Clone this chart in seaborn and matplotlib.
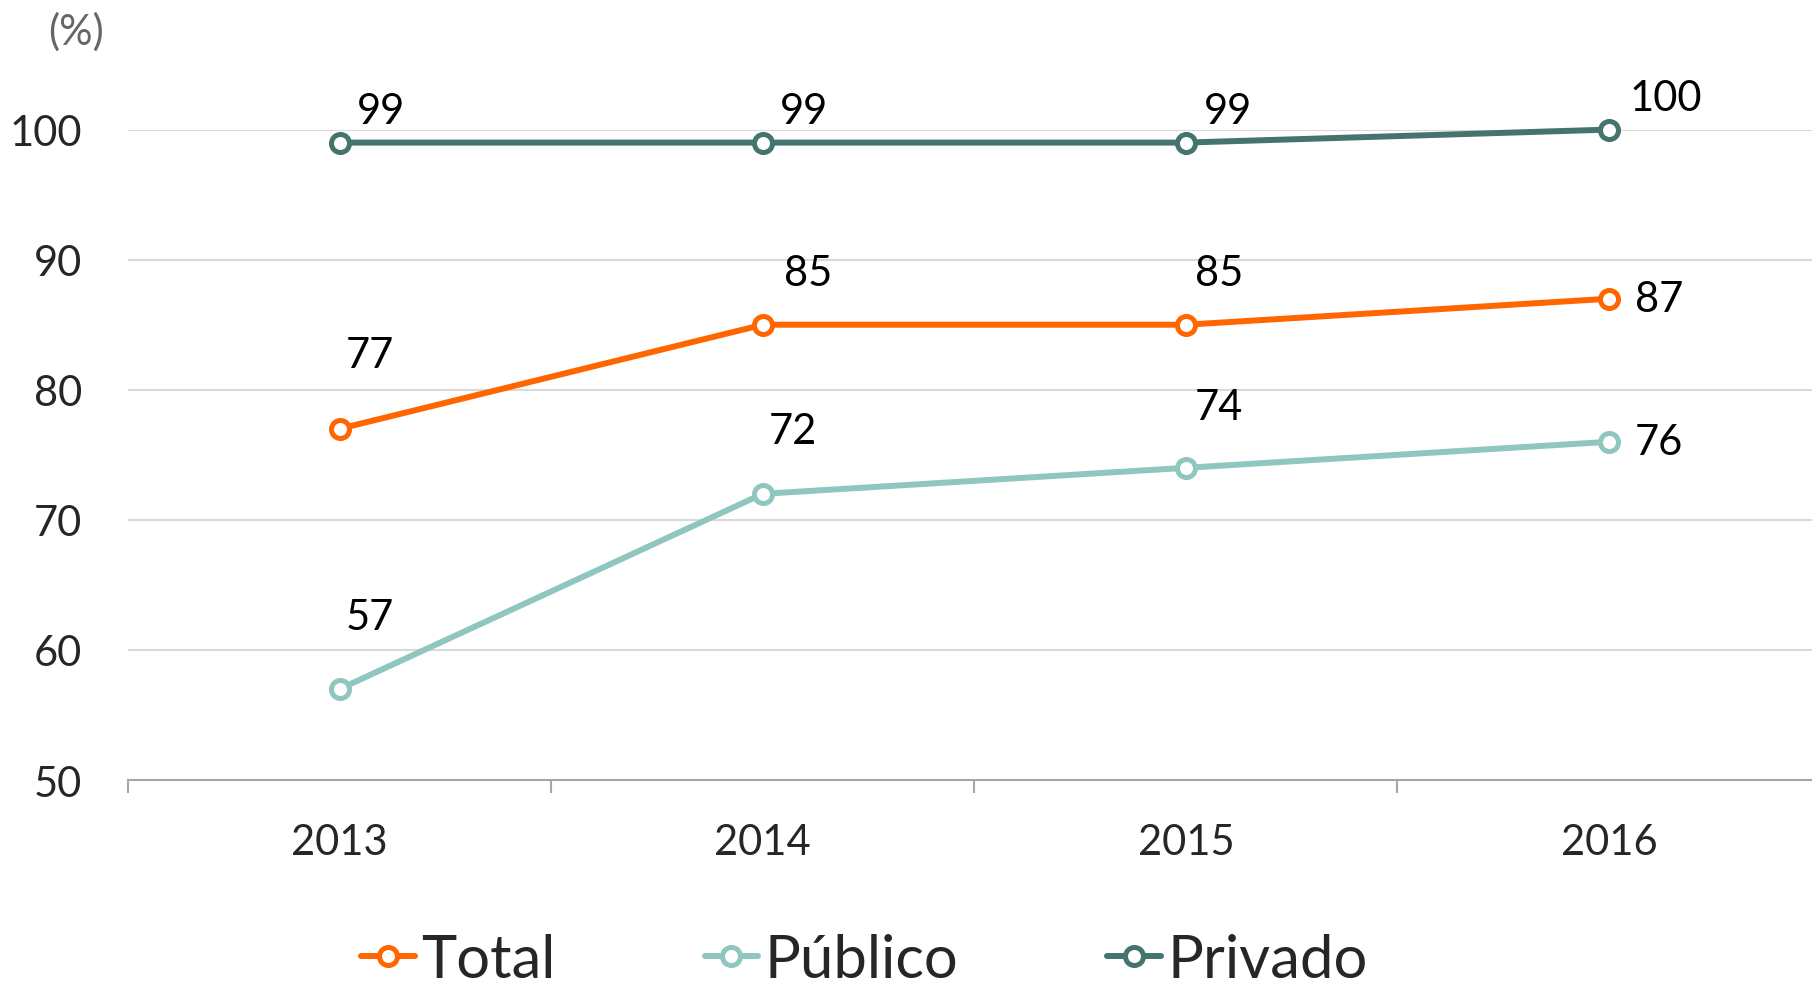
import pandas as pd
import matplotlib
matplotlib.use("Agg")
import matplotlib.pyplot as plt
import seaborn as sns

# data
years = [2013, 2014, 2015, 2016]
total = [77, 85, 85, 87]
publico = [57, 72, 74, 76]
privado = [99, 99, 99, 100]
series_names = ["Total", "Público", "Privado"]

# label offsets (points) per series, per year
offsets = {
    "Total": [(22, 53), (33, 37), (24, 37), (36, 0)],
    "Público": [(22, 52), (22, 45), (24, 44), (36, 0)],
    "Privado": [(30, 23), (30, 23), (30, 23), (41, 23)],
}

colors = {"Total": "#FF6600", "Público": "#8FC6C0", "Privado": "#44746E"}

df = pd.DataFrame({
    "Ano": years * 3,
    "Valor": total + publico + privado,
    "Serie": [s for s in series_names for _ in years],
})

sns.set_style("white")
plt.rcParams["font.family"] = ["Lato", "DejaVu Sans"]

fig = plt.figure(figsize=(18.12, 10.03), dpi=100)
ax = fig.add_axes([0.0707, 0.2213, 0.934, 0.6485])

sns.lineplot(data=df, x="Ano", y="Valor", hue="Serie", hue_order=series_names,
             palette=colors, marker="o", markersize=13, linewidth=4.3,
             legend=False, ax=ax, clip_on=False, zorder=3)

for line, name in zip(ax.lines, series_names):
    line.set_markerfacecolor("white")
    line.set_markeredgecolor(colors[name])
    line.set_markeredgewidth(3.6)
    line.set_label(name)

# data labels
vals = {"Total": total, "Público": publico, "Privado": privado}
for name in series_names:
    for x, v, (dx, dy) in zip(years, vals[name], offsets[name]):
        ax.annotate(str(v), (x, v), xytext=(dx, dy), textcoords="offset points",
                    ha="center", va="center", fontsize=30, color="black")

ax.set_xlim(2012.5, 2016.5)
ax.set_ylim(50, 100)
ax.set_yticks([50, 60, 70, 80, 90, 100])
ax.set_xticks(years)
ax.set_xticks([2012.5, 2013.5, 2014.5, 2015.5, 2016.5], minor=True)
ax.tick_params(axis="x", which="major", bottom=True, length=0, pad=31, labelsize=30)
ax.tick_params(axis="x", which="minor", bottom=True, length=9, width=1.5,
               color="#A6A6A6", direction="out")
ax.tick_params(axis="y", length=0, pad=33, labelsize=30)
ax.set_xlabel("")
ax.set_ylabel("")
ax.grid(axis="y", color="#D9D9D9", linewidth=1.5)
ax.set_axisbelow(True)
for s in ["left", "right", "top"]:
    ax.spines[s].set_visible(False)
ax.spines["bottom"].set_color("#A6A6A6")
ax.spines["bottom"].set_linewidth(1.5)

fig.text(76 / 1812, 1 - 32 / 1003, "(%)", ha="center", va="center",
         fontsize=30, color="#666666")

handles = ax.lines[:3]
fig.legend(handles, series_names, loc="center", bbox_to_anchor=(0.477, 0.042),
           ncol=3, frameon=False, fontsize=43, handlelength=0.9,
           handletextpad=0.1, columnspacing=2.5)

fig.savefig("out.png", dpi=100)
